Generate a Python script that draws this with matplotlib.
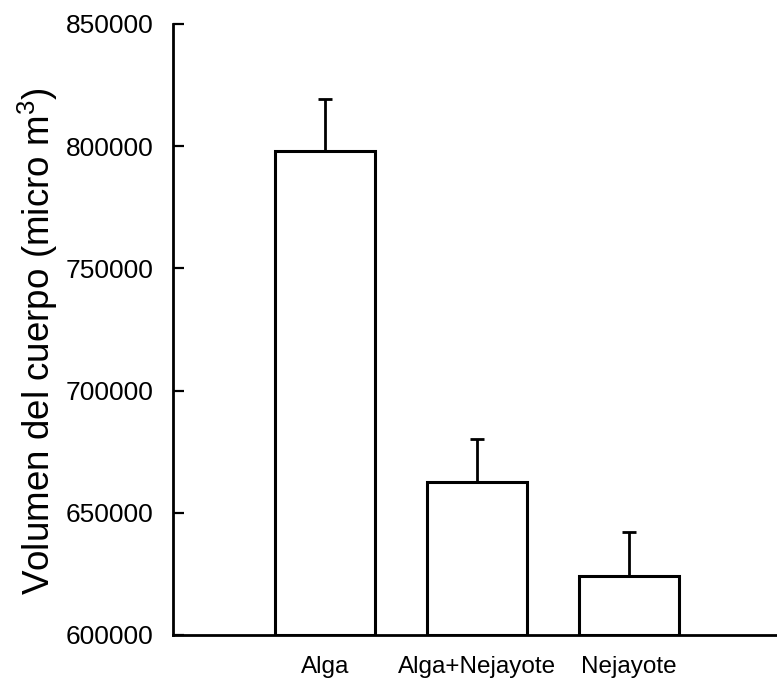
import matplotlib
matplotlib.use("Agg")
import matplotlib.pyplot as plt

plt.rcParams['font.family'] = ['Liberation Sans', 'DejaVu Sans']
plt.rcParams['mathtext.fontset'] = 'custom'
plt.rcParams['mathtext.rm'] = 'Liberation Sans'
plt.rcParams['mathtext.it'] = 'Liberation Sans'

# Body volume by diet treatment (mean + upper error)
categories = ["Alga", "Alga+Nejayote", "Nejayote"]
means = [798000, 662800, 624300]
errors = [21200, 17500, 18000]
yticks = [600000, 650000, 700000, 750000, 800000, 850000]

fig = plt.figure(figsize=(7.77, 6.83), dpi=100)
ax = fig.add_axes([173 / 777, 48 / 683, 604 / 777, 611 / 683])

x = [1, 2, 3]
ax.bar(x, [m - 600000 for m in means], bottom=600000, width=0.66,
       color="white", edgecolor="black", linewidth=2.2, zorder=2)
ax.errorbar(x, means, yerr=[[0] * 3, errors], fmt="none", ecolor="black",
            elinewidth=2.0, capsize=5, capthick=2.0, zorder=3)

ax.set_xlim(0, 604 / 152)
ax.set_ylim(600000, 850000)
ax.set_yticks(yticks)
ax.set_yticklabels([str(v) for v in yticks], fontsize=19)
ax.set_xticks(x)
ax.set_xticklabels(categories, fontsize=17.5)

ax.spines['top'].set_visible(False)
ax.spines['right'].set_visible(False)
ax.spines['left'].set_linewidth(2.0)
ax.spines['bottom'].set_linewidth(2.0)
ax.tick_params(axis='y', direction='in', length=8, width=1.6, pad=14)
ax.tick_params(axis='x', length=0, pad=15)

fig.text(38 / 777, 1 - 341 / 683, r"Volumen del cuerpo (micro m$^3$)",
         rotation=90, ha="center", va="center", fontsize=26.5)

fig.savefig("out.png", dpi=100)
